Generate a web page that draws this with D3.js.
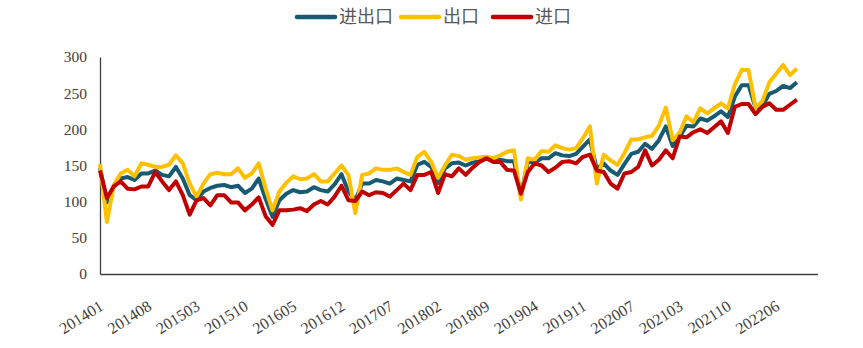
<!DOCTYPE html>
<html>
<head>
<meta charset="utf-8">
<script src="https://cdn.jsdelivr.net/npm/d3@7/dist/d3.min.js"></script>
<style>
  html, body { margin: 0; padding: 0; background: #fff; }
  svg { display: block; }
</style>
</head>
<body>
<svg id="chart" width="863" height="348"></svg>
<script>
// Monthly periods (January is merged into February from 2020 on)
const months = [
  "201401","201402","201403","201404","201405","201406","201407","201408","201409","201410","201411","201412",
  "201501","201502","201503","201504","201505","201506","201507","201508","201509","201510","201511","201512",
  "201601","201602","201603","201604","201605","201606","201607","201608","201609","201610","201611","201612",
  "201701","201702","201703","201704","201705","201706","201707","201708","201709","201710","201711","201712",
  "201801","201802","201803","201804","201805","201806","201807","201808","201809","201810","201811","201812",
  "201901","201902","201903","201904","201905","201906","201907","201908","201909","201910","201911","201912",
  "202002","202003","202004","202005","202006","202007","202008","202009","202010","202011","202012",
  "202102","202103","202104","202105","202106","202107","202108","202109","202110","202111","202112",
  "202202","202203","202204","202205","202206","202207","202208","202209"
];

// 进出口 (total trade)
const totalTrade = [
  147, 99,122,132,134,130,139,139,143,137,135,148,
  132,109,102,114,119,122,123,120,122,112,118,132,
  104, 79,102,111,116,113,114,120,116,114,124,138,
  114,102,125,125,130,128,125,132,130,128,151,155,
  148,126,146,153,154,150,154,156,160,157,158,156,
  156,109,155,154,160,160,167,164,163,166,176,186,
  145,153,143,137,152,166,169,180,173,185,204,
  177,190,205,204,215,212,218,225,217,245,261,
  261,230,232,249,253,260,257,265
];

// 出口 (exports)
const exports = [
  152, 72,123,139,144,135,153,151,148,148,151,164,
  153,125,107,125,138,140,138,138,146,133,139,153,
  118, 88,114,126,135,131,132,138,128,128,139,150,
  137, 84,137,139,146,144,144,146,141,137,162,169,
  155,133,150,165,163,158,160,161,162,160,164,169,
  171,103,160,158,170,169,178,174,172,174,188,204,
  125,165,157,151,167,186,186,189,191,205,230,
  185,195,218,210,229,222,229,236,229,262,282,
  282,230,239,265,277,289,275,284
];

// 进口 (imports)
const imports = [
  143,105,121,128,118,117,121,121,141,128,116,128,
  109, 82,102,105, 95,109,109, 99, 99, 88, 96,106,
   80, 68, 88, 88, 89, 91, 87, 96,101, 96,107,122,
  102,101,114,109,113,112,107,116,125,116,137,137,
  141,112,138,135,146,137,147,155,160,155,155,144,
  143,111,141,153,150,141,147,155,156,153,162,165,
  143,141,125,118,139,141,148,171,150,158,171,
  160,190,189,196,200,195,203,211,195,231,235,
  235,221,231,236,227,227,234,241
];

// Every seventh period carries a label
const tickIndex = [0,7,14,21,28,35,42,49,56,63,70,77,84,91,98];
const yTicks = [0,50,100,150,200,250,300];

const series = [
  { name: "进出口", values: totalTrade, color: "#175a72" },
  { name: "出口",   values: exports,    color: "#ffc000" },
  { name: "进口",   values: imports,    color: "#c00000" }
];

const svg = d3.select("#chart");

// The category axis runs a little past the last period
const x = d3.scaleLinear().domain([0, 104]).range([100, 817.6]);
const y = d3.scaleLinear().domain([0, 300]).range([274, 57]);

// Axes
const yAxis = svg.append("g")
  .attr("transform", "translate(100,0)")
  .call(d3.axisLeft(y).tickValues(yTicks).tickSize(0).tickPadding(13).tickFormat(d3.format("d")));
yAxis.select(".domain").attr("stroke", "#404040").attr("stroke-width", 1.3);
yAxis.selectAll("text")
  .attr("font-family", "'Liberation Serif', 'Times New Roman', serif")
  .attr("font-size", 15.5)
  .attr("fill", "#404040");

const xAxis = svg.append("g")
  .attr("transform", "translate(0,274)")
  .call(d3.axisBottom(x).tickValues(tickIndex).tickSize(0).tickFormat(i => months[i]));
xAxis.select(".domain").attr("stroke", "#404040").attr("stroke-width", 1.6);
xAxis.selectAll("text")
  .attr("font-family", "'Liberation Serif', 'Times New Roman', serif")
  .attr("font-size", 16)
  .attr("fill", "#404040")
  .attr("text-anchor", "end")
  .attr("dy", null)
  .attr("y", 0)
  .attr("transform", "translate(4,35) rotate(-32)");

// Lines
const line = d3.line()
  .x((d, i) => x(i))
  .y(d => y(d));

svg.append("g")
  .selectAll("path")
  .data(series)
  .join("path")
  .attr("d", s => line(s.values))
  .attr("fill", "none")
  .attr("stroke", s => s.color)
  .attr("stroke-width", 4)
  .attr("stroke-linejoin", "round")
  .attr("stroke-linecap", "butt");

// Legend
const legendX = [297, 401, 493];
const legend = svg.append("g");
series.forEach((s, k) => {
  const g = legend.append("g").attr("transform", `translate(${legendX[k]},17)`);
  g.append("line")
    .attr("x1", 0).attr("x2", 38).attr("y1", 0).attr("y2", 0)
    .attr("stroke", s.color).attr("stroke-width", 4.5).attr("stroke-linecap", "round");
  g.append("text")
    .attr("x", 42).attr("y", 0).attr("dy", "0.35em")
    .attr("font-family", "'Noto Sans CJK SC', sans-serif")
    .attr("font-size", 18)
    .attr("fill", "#595959")
    .text(s.name);
});
</script>
</body>
</html>
